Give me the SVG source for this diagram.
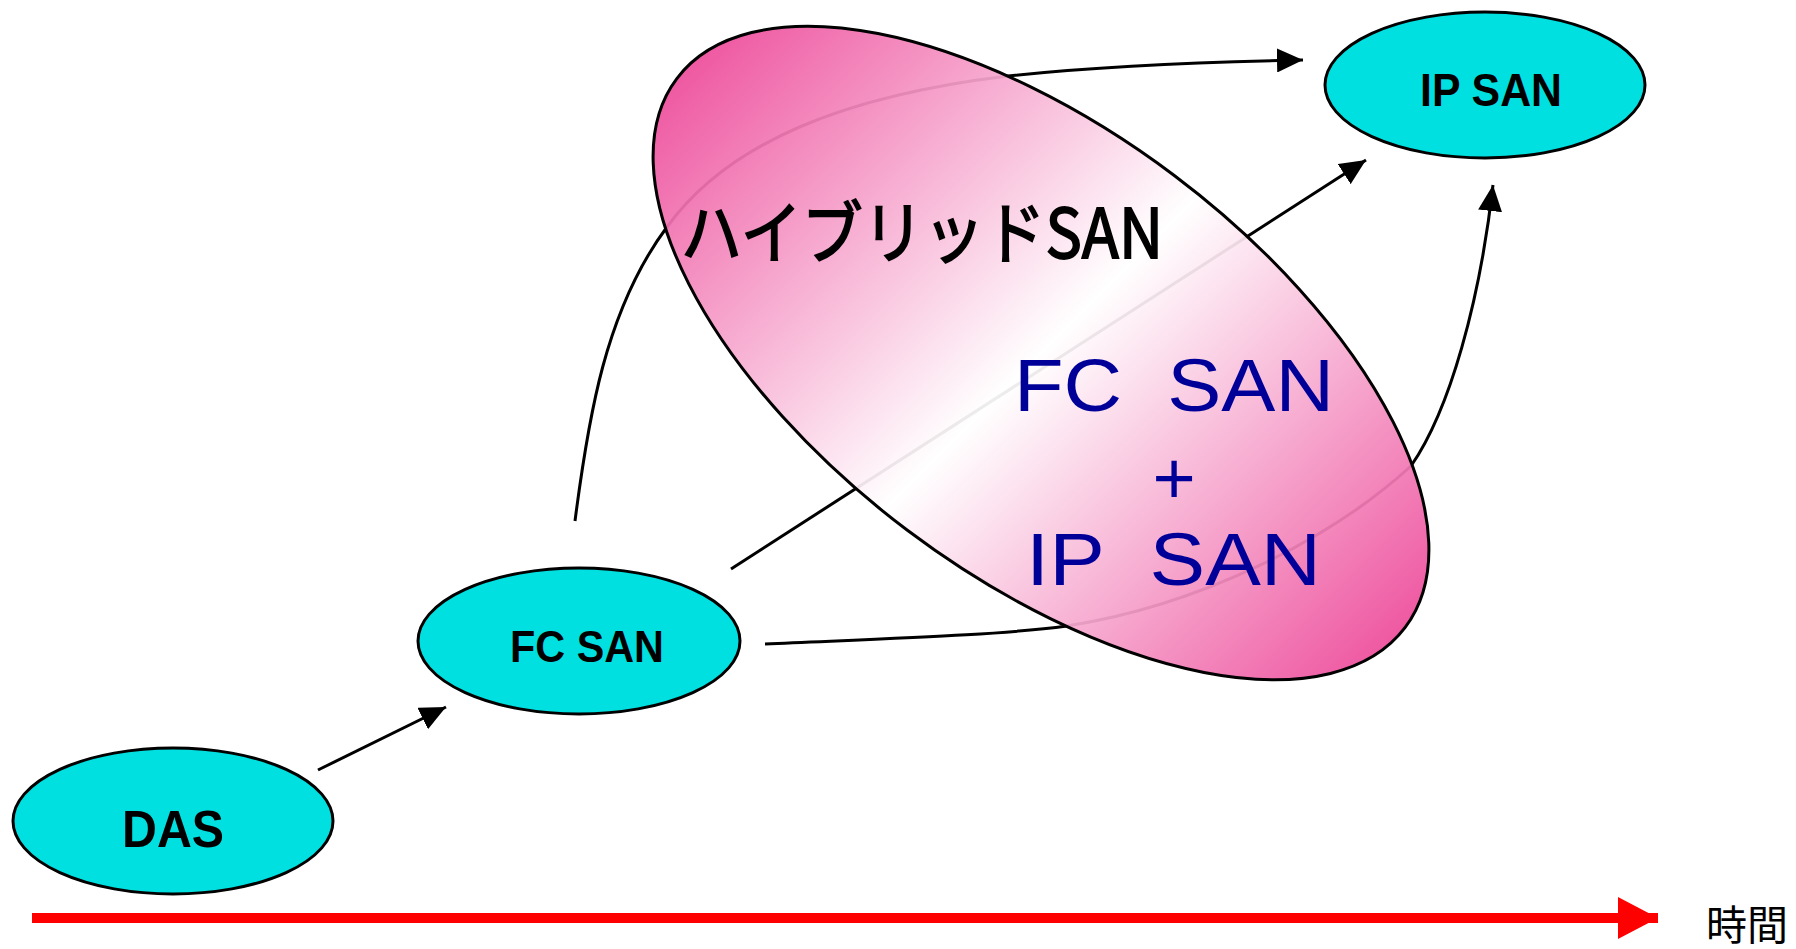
<svg xmlns="http://www.w3.org/2000/svg" width="1796" height="949" viewBox="0 0 1796 949">
  <style>
    .node { fill: #00E0E0; stroke: #000; stroke-width: 3; }
    .lbl { font-family: "Liberation Sans", Arial, sans-serif; font-weight: bold; fill: #000; }
    .conn { fill: none; stroke: #000; stroke-width: 3; marker-end: url(#ah); }
    .blue { font-family: "Liberation Sans", Arial, sans-serif; fill: #000099; font-size: 74px; white-space: pre; }
  </style>
  <defs>
    <marker id="ah" markerUnits="userSpaceOnUse" markerWidth="26" markerHeight="24" viewBox="0 0 26 24" refX="26" refY="12" orient="auto">
      <path d="M0,0 L26,12 L0,24 z" fill="#000"/>
    </marker>
    <marker id="redah" markerUnits="userSpaceOnUse" markerWidth="40" markerHeight="42" viewBox="0 0 40 42" refX="40" refY="21" orient="auto">
      <path d="M0,0 L40,21 L0,42 z" fill="#FF0000"/>
    </marker>
    <!-- coordinates are in the ellipse's rotated frame; screen direction is 45 degrees -->
    <linearGradient id="pinkgrad" gradientUnits="userSpaceOnUse" x1="506" y1="278" x2="1576" y2="428">
      <stop offset="0" stop-color="#EA2A88"/>
      <stop offset="0.5" stop-color="#FFFFFF"/>
      <stop offset="1" stop-color="#EA2A88"/>
    </linearGradient>
  </defs>

  <g id="connectors">
    <path class="conn" d="M318,770 L446,707"/>
    <path class="conn" d="M575,521 C588,420 605,310 667,227 C730,140 850,95 1008,76 C1100,66 1200,62 1303,60"/>
    <path class="conn" d="M731,569 L1366,160"/>
    <path class="conn" d="M765,644 C900,638 1000,635 1067,626 C1200,605 1330,540 1411,466 C1450,410 1480,300 1493,185"/>
  </g>

  <g id="hybrid-san">
    <ellipse cx="1041" cy="353" rx="456" ry="222" transform="rotate(37 1041 353)" fill="url(#pinkgrad)" fill-opacity="0.93" stroke="#000" stroke-width="3"/>
    <text x="681" y="258" font-family="'Noto Sans CJK JP', sans-serif" font-size="68" fill="#000" stroke="#000" stroke-width="1.8" textLength="482" lengthAdjust="spacingAndGlyphs">ハイブリッドSAN</text>
    <text class="blue" x="1014" y="411" textLength="320" lengthAdjust="spacingAndGlyphs">FC  SAN</text>
    <text class="blue" x="1174" y="504" text-anchor="middle">+</text>
    <text class="blue" x="1026" y="585" textLength="295" lengthAdjust="spacingAndGlyphs">IP  SAN</text>
  </g>

  <g id="das">
    <ellipse class="node" cx="173" cy="821" rx="160" ry="73"/>
    <text class="lbl" x="122" y="847" font-size="51" textLength="102" lengthAdjust="spacingAndGlyphs">DAS</text>
  </g>

  <g id="fc-san">
    <ellipse class="node" cx="579" cy="641" rx="161" ry="73"/>
    <text class="lbl" x="510" y="662" font-size="45" textLength="154" lengthAdjust="spacingAndGlyphs">FC SAN</text>
  </g>

  <g id="ip-san">
    <ellipse class="node" cx="1485" cy="85" rx="160" ry="73"/>
    <text class="lbl" x="1420" y="106" font-size="46" textLength="142" lengthAdjust="spacingAndGlyphs">IP SAN</text>
  </g>

  <g id="time-axis">
    <line x1="32" y1="918" x2="1658" y2="918" stroke="#FF0000" stroke-width="10" marker-end="url(#redah)"/>
    <text x="1706" y="940" font-family="'Noto Sans CJK JP', sans-serif" font-size="41" fill="#000">時間</text>
  </g>
</svg>
